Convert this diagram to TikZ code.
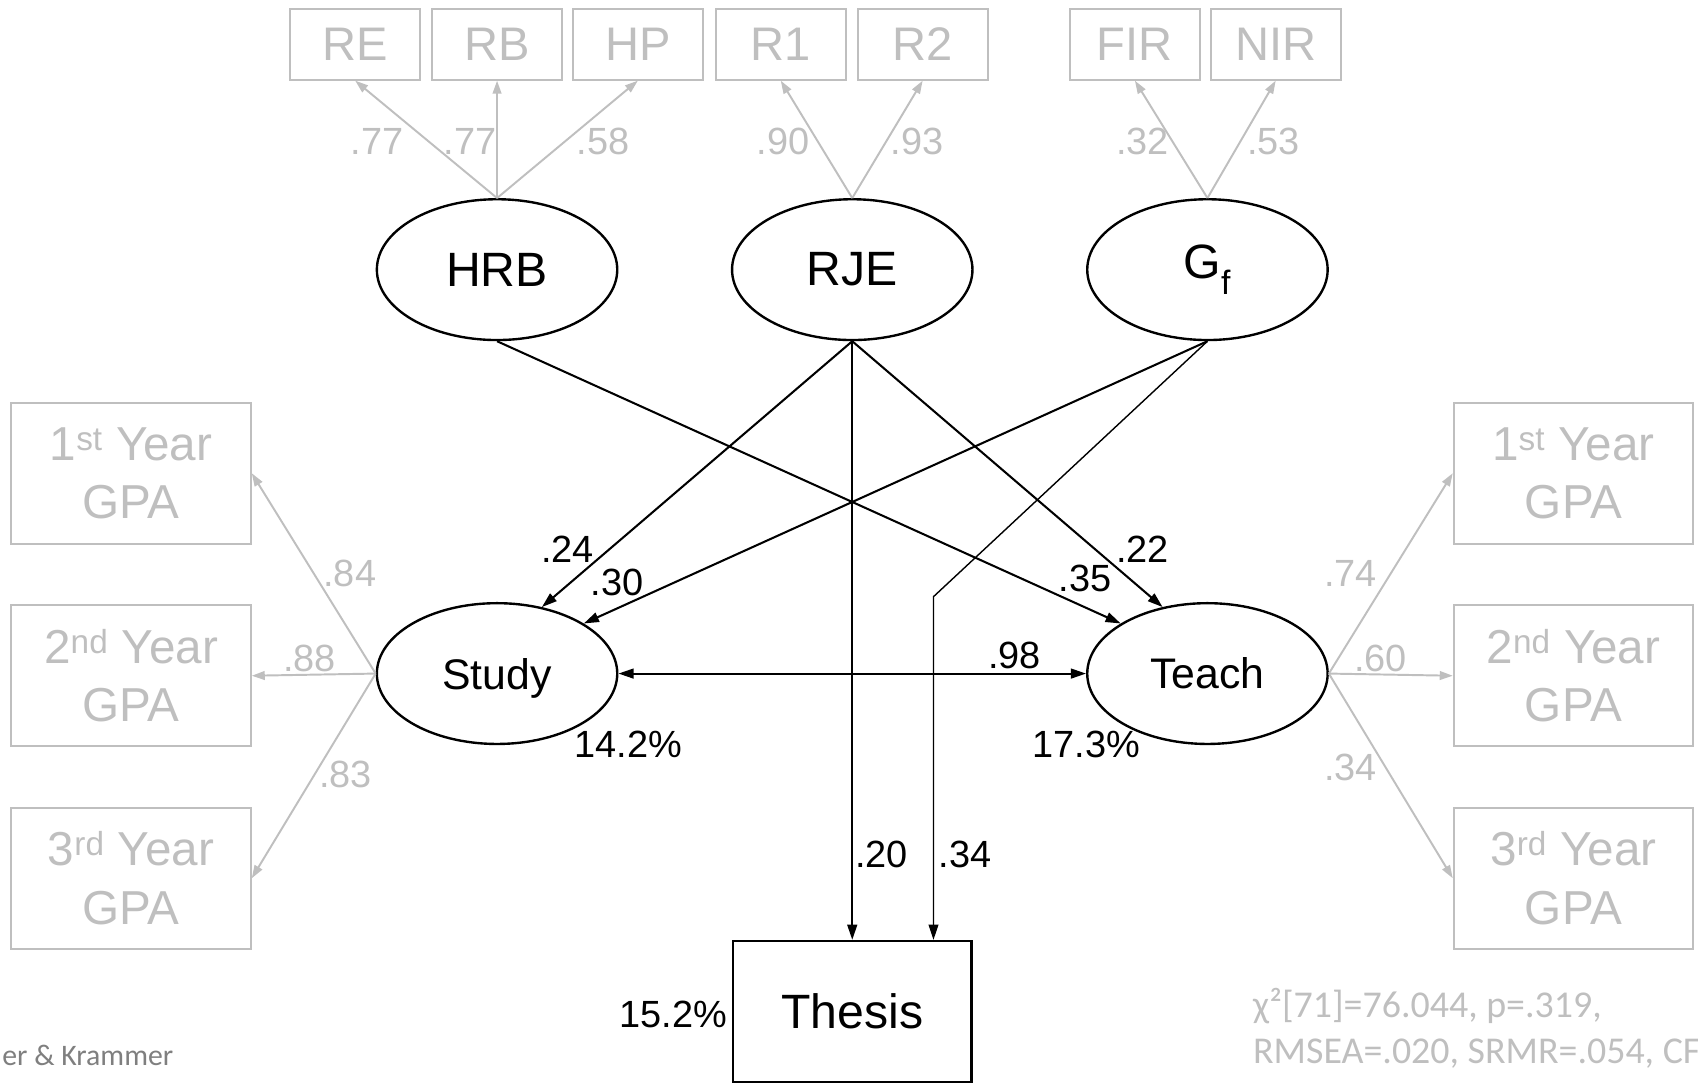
\documentclass[tikz,border=0pt]{standalone}
\usepackage{fontspec}
\setmainfont{Liberation Sans}
\newfontfamily\calibfont{Carlito}
\usepackage{tikz}
\usetikzlibrary{positioning, arrows.meta, shapes.geometric}
\definecolor{lightline}{RGB}{191,191,191}
\definecolor{creditgray}{RGB}{127,127,127}

\begin{document}
\begin{tikzpicture}[x=1pt, y=-1pt,
  obs/.style={draw=lightline, text=lightline, line width=2pt, minimum width=120pt, minimum height=65pt, inner sep=0pt, font=\fontsize{43.5}{48}\selectfont},
  gpa/.style={obs, minimum width=221pt, minimum height=130pt, align=center, font=\fontsize{44}{54}\selectfont},
  lat/.style={draw, ellipse, line width=2.2pt, minimum width=222pt, minimum height=130pt, inner sep=0pt, font=\fontsize{44.5}{50}\selectfont},
  load/.style={draw=lightline, line width=1.8pt, -{Triangle[length=12pt, width=8pt]}},
  reg/.style={line width=1.9pt, -{Triangle[length=14pt, width=9pt]}},
  coef/.style={inner sep=0pt, font=\fontsize{35}{40}\selectfont},
  lcoef/.style={coef, text=lightline}]
\useasboundingbox (0,0) rectangle (1568,1000);

% indicators
\node[obs] (re) at (328,41) {RE};
\node[obs] (rb) at (459,41) {RB};
\node[obs] (hp) at (589,41) {HP};
\node[obs] (r1) at (721,41) {R1};
\node[obs] (r2) at (852,41) {R2};
\node[obs] (fir) at (1048,41) {FIR};
\node[obs] (nir) at (1178,41) {NIR};

\node[gpa] (gpaL1) at (121,437) {1\textsuperscript{st} Year\\GPA};
\node[gpa] (gpaL2) at (121,624) {2\textsuperscript{nd} Year\\GPA};
\node[gpa] (gpaL3) at (121,811) {3\textsuperscript{rd} Year\\GPA};
\node[gpa] (gpaR1) at (1453,437) {1\textsuperscript{st} Year\\GPA};
\node[gpa] (gpaR2) at (1453,624) {2\textsuperscript{nd} Year\\GPA};
\node[gpa] (gpaR3) at (1453,811) {3\textsuperscript{rd} Year\\GPA};

% latent variables
\node[lat] (hrb) at (459,249) {HRB};
\node[lat] (rje) at (787,249) {RJE};
\node[lat] (gf) at (1115,249) {G\textsubscript{f}};
\node[lat, text depth=0pt, font=\fontsize{39.5}{46}\selectfont] (study) at (459,622) {Study};
\node[lat, font=\fontsize{39.5}{46}\selectfont] (teach) at (1115,622) {Teach};
\node[draw, line width=2.2pt, minimum width=220pt, minimum height=130pt, font=\fontsize{44.5}{50}\selectfont] (thesis) at (787,934) {Thesis};

% loadings
\draw[load] (hrb.north) -- (re.south);
\draw[load] (hrb.north) -- (rb.south);
\draw[load] (hrb.north) -- (hp.south);
\draw[load] (rje.north) -- (r1.south);
\draw[load] (rje.north) -- (r2.south);
\draw[load] (gf.north) -- (fir.south);
\draw[load] (gf.north) -- (nir.south);
\draw[load] (study.west) -- (gpaL1.east);
\draw[load] (study.west) -- (gpaL2.east);
\draw[load] (study.west) -- (gpaL3.east);
\draw[load] (teach.east) -- (gpaR1.west);
\draw[load] (teach.east) -- (gpaR2.west);
\draw[load] (teach.east) -- (gpaR3.west);

% paths
\draw[reg] (hrb.south) -- (teach.150);
\draw[reg] (rje.south) -- (study.56);
\draw[reg] (rje.south) -- (teach.124);
\draw[reg] (gf.south) -- (study.30);
\draw[reg] (rje.south) -- (thesis.north);
\coordinate (kink) at (862,551);
\draw[reg, line width=1.3pt] (gf.south) -- (kink) -- (thesis.north -| kink);
\draw[reg, {Triangle[length=14pt, width=9pt]}-{Triangle[length=14pt, width=9pt]}] (study) -- (teach);

% coefficients
\node[lcoef] (lre) at (348,131) {.77};
\node[lcoef] (lrb) at (434,131) {.77};
\node[lcoef] (lhp) at (557,131) {.58};
\node[lcoef] (lr1) at (723,131) {.90};
\node[lcoef] (lr2) at (847,131) {.93};
\node[lcoef] (lfir) at (1055,131) {.32};
\node[lcoef] (lnir) at (1176,131) {.53};
\node[lcoef] (lgL1) at (323,530) {.84};
\node[lcoef] (lgL2) at (286,608) {.88};
\node[lcoef] (lgL3) at (319,715) {.83};
\node[lcoef] (lgR1) at (1247,530) {.74};
\node[lcoef] (lgR2) at (1275,608) {.60};
\node[lcoef] (lgR3) at (1247,709) {.34};

\node[coef] (b24) at (524,507) {.24};
\node[coef] (b30) at (570,538) {.30};
\node[coef] (b35) at (1002,534) {.35};
\node[coef] (b22) at (1055,507) {.22};
\node[coef] (b98) at (937,605) {.98};
\node[coef] (b20) at (814,789) {.20};
\node[coef] (b34) at (891,789) {.34};

\node[coef] (r2study) at (580,687) {14.2\%};
\node[coef] (r2teach) at (1003,687) {17.3\%};
\node[coef] (r2thesis) at (622,937) {15.2\%};

% notes
\node[anchor=base west, inner sep=0pt, text=creditgray, font=\calibfont\fontsize{27.5}{30}\selectfont] (credit) at (2,984) {er \& Krammer};
\node[anchor=base west, inner sep=0pt, align=left, text=lightline, font=\calibfont\fontsize{35}{42}\selectfont] (fit) at (1157,982) {χ²[71]=76.044, p=.319,\\RMSEA=.020, SRMR=.054, CFI};
\end{tikzpicture}
\end{document}
